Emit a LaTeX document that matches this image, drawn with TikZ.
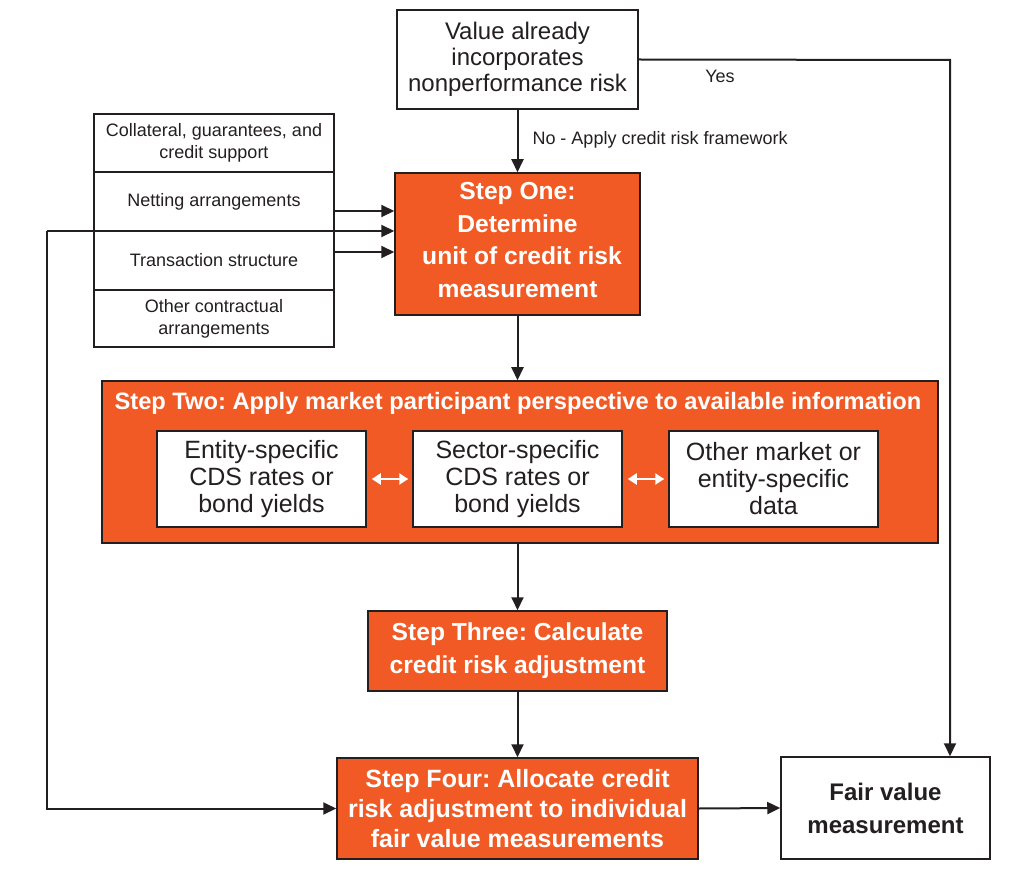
\documentclass[tikz,border=0pt]{standalone}
\usepackage{fontspec}
\setmainfont{Liberation Sans}
\usetikzlibrary{arrows.meta,calc}
\definecolor{orng}{RGB}{241,90,36}
\definecolor{ink}{RGB}{35,31,32}
\frenchspacing
\begin{document}
\begin{tikzpicture}[x=1pt,y=-1pt,
  box/.style={draw=ink,line width=1.5pt,fill=white,text=ink,align=center,inner sep=0pt},
  obox/.style={draw=ink,line width=1.5pt,fill=orng,text=white,align=center,inner sep=0pt,font=\bfseries\fontsize{24.6}{33}\selectfont},
  sbox/.style={box,minimum width=240pt,font=\fontsize{18}{22}\selectfont},
  arr/.style={draw=ink,line width=2pt,-{Triangle[length=13pt,width=12pt]}},
  warr/.style={draw=white,line width=2.5pt,{Triangle[length=9pt,width=11pt]}-{Triangle[length=9pt,width=11pt]},shorten <=5pt,shorten >=4pt}]
\useasboundingbox (0,0) rectangle (1015,885);
% top decision
\node[box,minimum width=241pt,minimum height=99pt,font=\fontsize{24}{26}\selectfont] (top) at (517.5,59.5) {Value already\\incorporates\\nonperformance risk};
% step one
\node[obox,minimum width=245pt,minimum height=142pt] (s1) at (517.5,244) {};
\node[text=white,align=center,inner sep=0pt,font=\bfseries\fontsize{24.6}{32.5}\selectfont] (s1t) at (517.5,240) {Step One:\\Determine\\\hspace*{9pt}unit of credit risk\\measurement};
% left boxes
\node[sbox,minimum height=58pt] (coll) at (214,143) {Collateral, guarantees, and\\credit support};
\node[sbox,minimum height=59pt] (net) at (214,201.5) {Netting arrangements};
\node[sbox,minimum height=59pt] (trans) at (214,260.5) {Transaction structure};
\node[sbox,minimum height=57pt] (oth1) at (214,318.5) {Other contractual\\arrangements};
% step two
\node[obox,minimum width=836pt,minimum height=162pt] (s2) at (520,462) {};
\node[text=white,font=\bfseries\fontsize{23.7}{27}\selectfont,inner sep=0pt] (s2t) at (518,403) {Step Two: Apply market participant perspective to available information};
\node[box,minimum width=209pt,minimum height=96pt,font=\fontsize{25}{27}\selectfont] (ent) at (261.5,479) {Entity-specific\\CDS rates or\\bond yields};
\node[box,minimum width=209pt,minimum height=96pt,font=\fontsize{25}{27}\selectfont] (sec) at (517.5,479) {Sector-specific\\CDS rates or\\bond yields};
\node[box,minimum width=209pt,minimum height=96pt,font=\fontsize{25}{27}\selectfont] (oth) at (773.5,479) {Other market or\\entity-specific\\data};
\draw[warr] (ent.east) -- (sec.west);
\draw[warr] (sec.east) -- (oth.west);
% step three, four
\node[obox,minimum width=299pt,minimum height=80pt] (s3) at (517.5,651) {Step Three: Calculate\\credit risk adjustment};
\node[obox,minimum width=361pt,minimum height=101pt,font=\bfseries\fontsize{25}{30}\selectfont] (s4) at (517.5,808.5) {Step Four: Allocate credit\\risk adjustment to individual\\fair value measurements};
\node[box,minimum width=209pt,minimum height=102pt,font=\bfseries\fontsize{24}{33}\selectfont] (fv) at (885.5,808) {Fair value\\measurement};
% connectors
\draw[arr] (top.south) -- (s1.north) node[pos=0.48,right=14pt,text=ink,font=\fontsize{18}{20}\selectfont,inner sep=0pt] (nolab) {No - Apply credit risk framework};
\coordinate (yc) at (950,60);
\draw[arr] (top.east) -- (yc) -- (yc |- fv.north);
\node[text=ink,font=\fontsize{18}{20}\selectfont,inner sep=0pt] (yes) at (720,76) {Yes};
\path ([yshift=-9.5pt]net.east) coordinate (n1);
\path ([yshift=8.5pt]trans.east) coordinate (t1);
\draw[arr] (n1) -- (n1 -| s1.west);
\draw[arr] (t1) -- (t1 -| s1.west);
\coordinate (lc) at (47,231);
\draw[arr] (lc) -- (lc -| s1.west);
\draw[arr] (lc) |- (s4.west);
\draw[arr] (s1.south) -- (s1.south |- s2.north);
\draw[arr] (s1.south |- s2.south) -- (s3.north);
\draw[arr] (s3.south) -- (s4.north);
\draw[arr] (s4.east) -- (fv.west);
\end{tikzpicture}
\end{document}
